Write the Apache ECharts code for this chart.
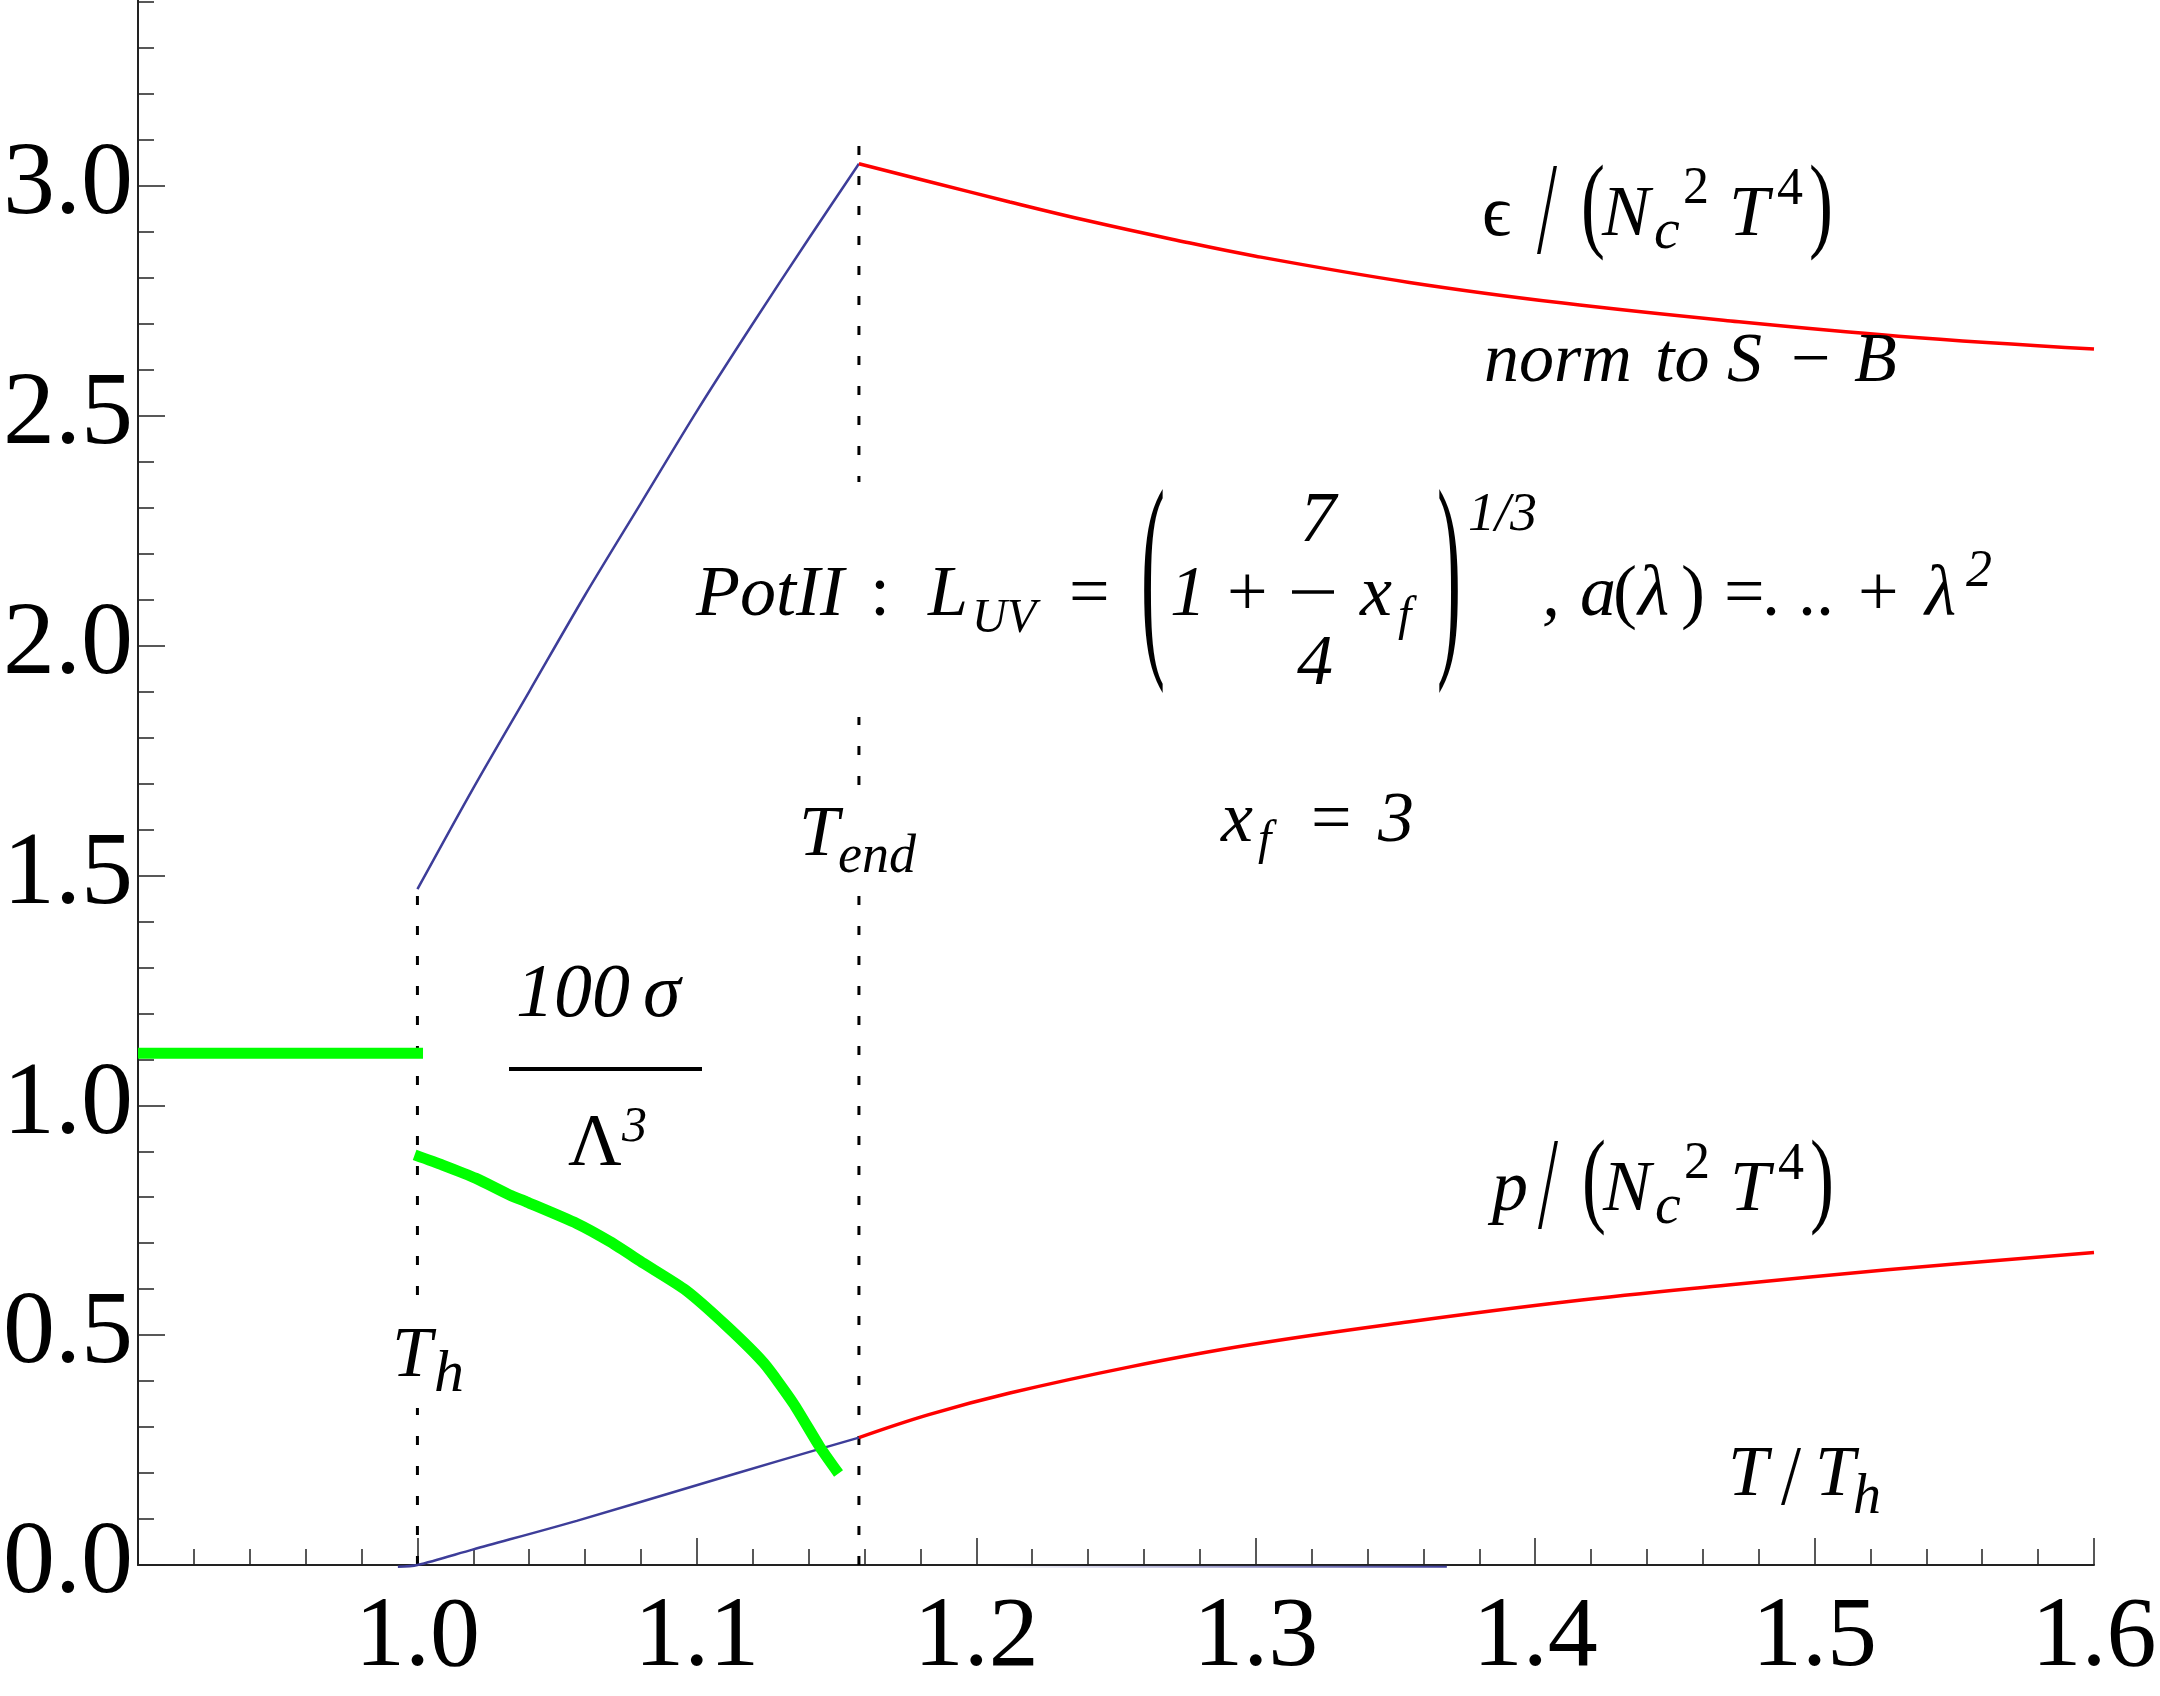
<!DOCTYPE html>
<html>
<head>
<meta charset="utf-8">
<title>PotII: energy density, pressure and sigma</title>
<script src="https://cdn.jsdelivr.net/npm/echarts@6/dist/echarts.min.js"></script>
<style>
html, body { margin: 0; padding: 0; background: #fff; }
#chart { width: 2160px; height: 1696px; }
</style>
</head>
<body>
<div id="chart"></div>
<script>
// energy density eps/(Nc^2 T^4): unstable branch (blue) and stable branch (red)
const epsLowT = [1.0, 1.02, 1.04, 1.06, 1.08, 1.10, 1.12, 1.14, 1.158]
const epsLowV = [1.47, 1.69, 1.90, 2.11, 2.31, 2.51, 2.70, 2.885, 3.048]
const epsHighT = [1.158, 1.184, 1.212, 1.24, 1.27, 1.30, 1.355, 1.41, 1.47, 1.53, 1.60]
const epsHighV = [3.048, 3.008, 2.965, 2.924, 2.884, 2.847, 2.790, 2.745, 2.706, 2.673, 2.645]

// pressure p/(Nc^2 T^4)
const pLowT = [0.993, 1.0, 1.02, 1.057, 1.099, 1.129, 1.158]
const pLowV = [-0.004, 0, 0.034, 0.096, 0.172, 0.226, 0.277]
const pHighT = [1.158, 1.183, 1.212, 1.255, 1.298, 1.355, 1.412, 1.469, 1.526, 1.60]
const pHighV = [0.277, 0.327, 0.374, 0.431, 0.479, 0.529, 0.573, 0.609, 0.642, 0.680]

// 100 sigma / Lambda^3 (green)
const sigmaFlatT = [0.9, 1.002]
const sigmaFlatV = [1.113, 1.113]
const sigmaT = [0.999, 1.009, 1.021, 1.033, 1.039, 1.057, 1.069, 1.081, 1.096, 1.111, 1.124, 1.1345, 1.144, 1.1507]
const sigmaV = [0.892, 0.870, 0.841, 0.805, 0.790, 0.743, 0.703, 0.656, 0.598, 0.518, 0.439, 0.352, 0.257, 0.199]

// faint trace just under the axis
const faintT = [1.2055, 1.3684]
const faintV = [-0.004, -0.004]

// dashed markers at T_h and T_end
const thT = [1.0, 1.0]
const thV = [0, 1.47]
const endT = [1.158, 1.158]
const endV = [0, 3.09]

// axis ticks
const xTicks = { min: 0.9, max: 1.6, step: 0.1 }
const yTicks = { min: 0, max: 3.5, step: 0.5 }

const BLUE = '#3d3d99'
const FONT = '"Liberation Serif"'

function pairs (xs, ys) {
  return xs.map((x, i) => [x, ys[i]])
}

function tx (str, x, baseline, size, italic = true) {
  return {
    type: 'text',
    x: x,
    y: baseline - 0.3375 * size,
    z: 60,
    style: {
      text: str,
      font: (italic ? 'italic ' : '') + size + 'px ' + FONT,
      fill: '#000',
      textAlign: 'left',
      textVerticalAlign: 'middle',
      align: 'left',
      verticalAlign: 'middle'
    }
  }
}

// a stretched delimiter: glyph centre at cy, total ink height h
function delim (ch, x, cy, h, size = 72) {
  let box = ch === '/' ? 0.712 : 0.871
  let off = ch === '/' ? 0 : 0.079
  let s = h / (box * size)
  let el = tx(ch, x, 0, size, false)
  el.y = cy - s * off * size
  el.scaleY = s
  return el
}

function bar (x1, x2, y, w) {
  return { type: 'line', z: 60, shape: { x1: x1, y1: y, x2: x2, y2: y }, style: { stroke: '#000', lineWidth: w } }
}

function whiteBox (x, y, w, h) {
  return { type: 'rect', z: 50, shape: { x: x, y: y, width: w, height: h }, style: { fill: '#fff' } }
}

// "X / (Nc^2 T^4)" block, x0 = pen of the leading symbol
function nct (x0, base) {
  return [
    delim('/', x0 + 46, base - 21.5, 93),
    delim('(', x0 + 90, base - 21.5, 93),
    tx('N', x0 + 111, base, 72),
    tx('c', x0 + 163, base + 12, 58),
    tx('2', x0 + 192, base - 33, 52, false),
    tx('T', x0 + 238, base, 72),
    tx('4', x0 + 286, base - 32, 52, false),
    delim(')', x0 + 318, base - 21.5, 93)
  ]
}

let labels = [
  whiteBox(690, 482, 1310, 235),
  whiteBox(798, 806, 126, 84),
  whiteBox(390, 1298, 76, 110),

  // eps label
  tx('\u03f5', 1482, 240, 72, false),
  ...nct(1491, 240),
  tx('norm', 1484, 386, 70),
  tx('to', 1655, 386, 70),
  tx('S', 1727, 386, 70),
  tx('\u2212', 1791, 386, 70, false),
  tx('B', 1854, 386, 70),

  // p label
  tx('p', 1492, 1215, 72),
  ...nct(1492, 1215),

  // T / T_h
  tx('T', 1728, 1500, 72),
  delim('/', 1781, 1482, 60),
  tx('T', 1815, 1500, 72),
  tx('h', 1853, 1517, 56),

  // formula
  tx('PotII', 696, 620, 72),
  tx(':', 870, 620, 72, false),
  tx('L', 928, 620, 72),
  tx('UV', 972, 636, 48),
  tx('=', 1069, 620, 72, false),
  delim('(', 1141, 604, 196),
  tx('1', 1170, 620, 72),
  tx('+', 1227, 620, 72, false),
  tx('7', 1300, 546, 72),
  bar(1292, 1334, 592, 3.5),
  tx('4', 1297, 689, 72),
  tx('x', 1360, 620, 72),
  tx('f', 1398, 634, 48),
  delim(')', 1437, 604, 196),
  tx('1/3', 1468, 534, 54),
  tx(',', 1542, 620, 72),
  tx('a', 1580, 620, 72),
  tx('(', 1613, 620, 72, false),
  tx('\u03bb', 1638, 620, 72),
  tx(')', 1681, 620, 72, false),
  tx('=', 1724, 620, 72, false),
  tx('. ..', 1762, 620, 72, false),
  tx('+', 1858, 620, 72, false),
  tx('\u03bb', 1925, 620, 72),
  tx('2', 1966, 590, 52),

  // T_end
  tx('T', 799, 860, 72),
  tx('end', 838, 876, 54),

  // x_f = 3
  tx('x', 1221, 846, 72),
  tx('f', 1258, 858, 48),
  tx('=', 1311, 846, 72, false),
  tx('3', 1378, 846, 72),

  // T_h
  tx('T', 392, 1381, 72),
  tx('h', 434, 1395, 60),

  // 100 sigma / Lambda^3
  tx('100', 516, 1022, 76),
  tx('\u03c3', 643, 1022, 76),
  bar(509, 702, 1069, 4),
  tx('\u039b', 568, 1171, 74, false),
  tx('3', 622, 1145, 50)
]

function curve (xs, ys, color, width, smooth) {
  return {
    type: 'line',
    data: pairs(xs, ys),
    symbol: 'none',
    smooth: smooth,
    clip: false,
    silent: true,
    lineStyle: { color: color, width: width }
  }
}

function dashed (xs, ys) {
  return {
    type: 'line',
    data: pairs(xs, ys),
    symbol: 'none',
    silent: true,
    lineStyle: { color: '#000', width: 3, type: [9, 21] }
  }
}

let axisCommon = {
  type: 'value',
  axisLine: { onZero: false, lineStyle: { color: '#222', width: 2 } },
  axisTick: { inside: true, length: 27, lineStyle: { color: '#222', width: 1.5 } },
  minorTick: { show: true, splitNumber: 5, length: 16, lineStyle: { color: '#222', width: 1.5 } },
  splitLine: { show: false },
  minorSplitLine: { show: false }
}

let chart = echarts.init(document.getElementById('chart'))
chart.setOption({
  animation: false,
  backgroundColor: '#fff',
  grid: { left: 138, right: 66, top: -44, bottom: 131, containLabel: false, outerBoundsMode: 'none' },
  xAxis: Object.assign({}, axisCommon, {
    min: xTicks.min,
    max: xTicks.max,
    interval: xTicks.step,
    axisLabel: {
      margin: 24,
      fontFamily: FONT,
      fontSize: 100,
      color: '#000',
      showMinLabel: false,
      formatter: v => v.toFixed(1)
    }
  }),
  yAxis: Object.assign({}, axisCommon, {
    min: yTicks.min,
    max: yTicks.max,
    interval: yTicks.step,
    axisLabel: {
      margin: 5,
      fontFamily: FONT,
      fontSize: 104,
      color: '#000',
      showMaxLabel: false,
      formatter: v => v.toFixed(1)
    }
  }),
  series: [
    dashed(thT, thV),
    dashed(endT, endV),
    {
      type: 'line',
      data: pairs(faintT, faintV),
      symbol: 'none',
      clip: false,
      silent: true,
      lineStyle: {
        width: 2,
        color: new echarts.graphic.LinearGradient(0, 0, 1, 0, [
          { offset: 0, color: 'rgba(61,61,153,0)' },
          { offset: 1, color: BLUE }
        ])
      }
    },
    curve(epsLowT, epsLowV, BLUE, 2.5, 0.3),
    curve(pLowT, pLowV, BLUE, 2.5, 0.3),
    curve(epsHighT, epsHighV, '#ff0000', 3.5, 0.4),
    curve(pHighT, pHighV, '#ff0000', 3.5, 0.4),
    curve(sigmaFlatT, sigmaFlatV, '#00ff00', 11, false),
    curve(sigmaT, sigmaV, '#00ff00', 11, 0.2)
  ],
  graphic: { elements: labels }
})
</script>
</body>
</html>
